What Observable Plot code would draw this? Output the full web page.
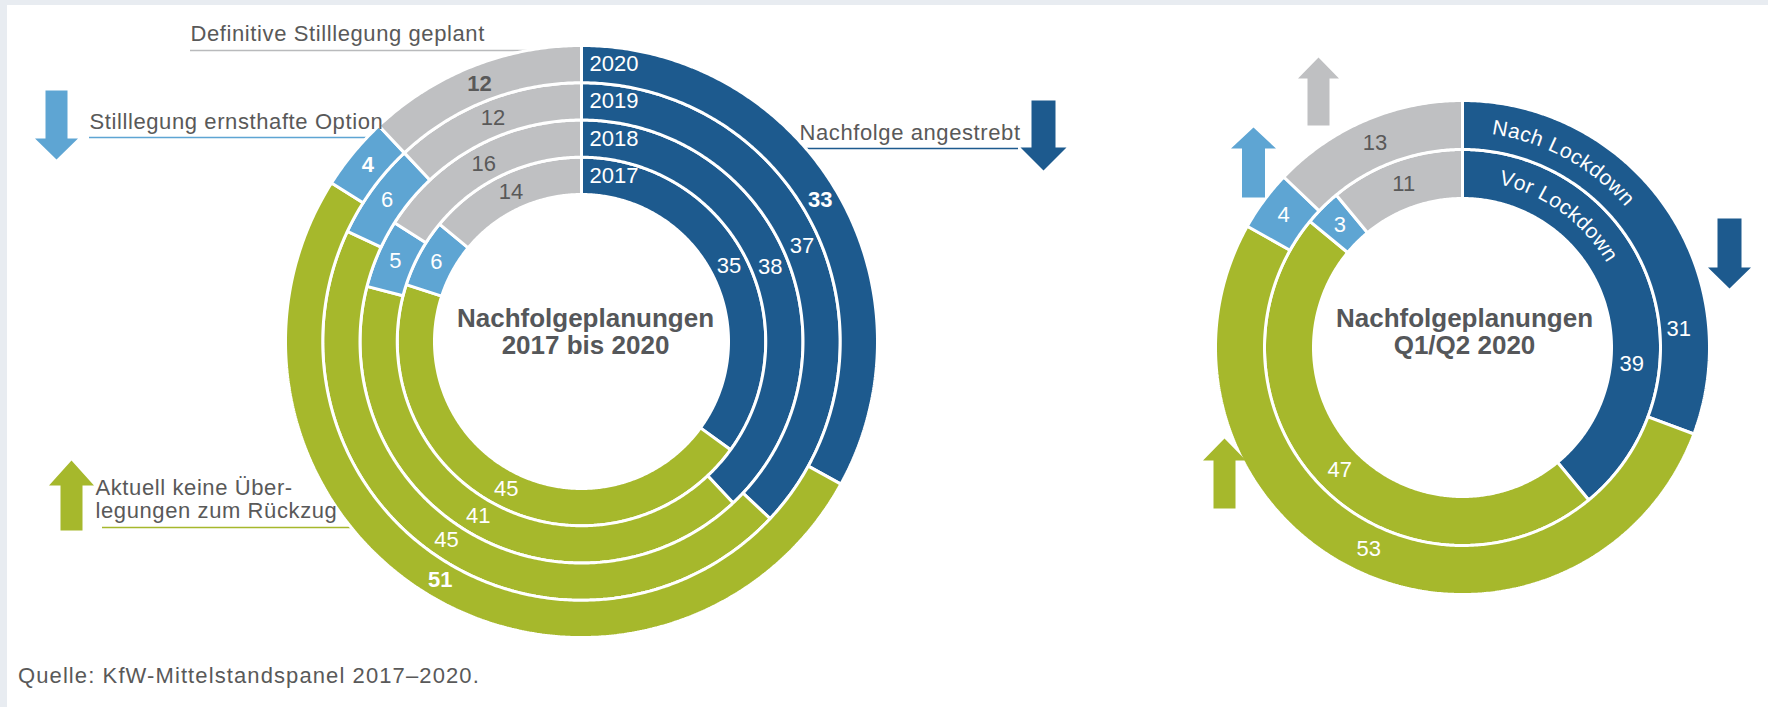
<!DOCTYPE html>
<html><head><meta charset="utf-8">
<script src="https://cdn.jsdelivr.net/npm/d3@7"></script>
<script src="https://cdn.jsdelivr.net/npm/@observablehq/plot@0.6"></script>
<style>
html,body{margin:0;padding:0;background:#e8ecf1;width:1768px;height:707px;overflow:hidden;font-family:"Liberation Sans",Arial,sans-serif}
#panel{position:absolute;left:7px;top:5px;width:1761px;height:702px;background:#fff}
#chart{position:absolute;left:0;top:0}
#caption{position:absolute;left:11px;top:660px;font-size:22px;line-height:22px;letter-spacing:1.1px;color:#595959;white-space:nowrap}
</style></head><body>
<div id="panel"><div id="chart"></div><div id="caption">Quelle: KfW-Mittelstandspanel 2017–2020.</div></div>
<script>
// ---------------- DATA ----------------
const categories = ["Nachfolge angestrebt", "Aktuell keine Überlegungen zum Rückzug", "Stilllegung ernsthafte Option", "Definitive Stilllegung geplant"];
const years = ["2017", "2018", "2019", "2020"];
const nachfolgeAngestrebt = [35, 38, 37, 33];
const keineUeberlegungen = [45, 41, 45, 51];
const stilllegungOption = [6, 5, 6, 4];
const stilllegungGeplant = [14, 16, 12, 12];

const periods = ["Vor Lockdown", "Nach Lockdown"];
const qNachfolgeAngestrebt = [39, 31];
const qKeineUeberlegungen = [47, 53];
const qStilllegungOption = [3, 4];
const qStilllegungGeplant = [11, 13];

const titleLeft = ["Nachfolgeplanungen", "2017 bis 2020"];
const titleRight = ["Nachfolgeplanungen", "Q1/Q2 2020"];

// ---------------- STYLE / LAYOUT ----------------
const COLORS = ["#1d5a8e", "#a6b82c", "#5ea5d3", "#bfc0c2"];
const LABEL_COLORS = ["#ffffff", "#ffffff", "#ffffff", "#595959"];
const TEXT = "#595959";
const FONT = "'Liberation Sans', Arial, sans-serif";
const LEFT = {cx: 581, cy: 341, radii: [147, 184.25, 221.5, 258.75, 296]};
const RIGHT = {cx: 1462, cy: 347, radii: [149, 198, 247]};
const W = 1761, H = 650, OX = 7, OY = 5;

const leftSeries = [nachfolgeAngestrebt, keineUeberlegungen, stilllegungOption, stilllegungGeplant];
const rightSeries = [qNachfolgeAngestrebt, qKeineUeberlegungen, qStilllegungOption, qStilllegungGeplant];

const rad = d => d * Math.PI / 180;
function pt(c, r, a) { return [c.cx + r * Math.sin(a), c.cy - r * Math.cos(a)]; }

// build ring polygons + labels from data
function buildDonut(c, series, ringNames, donutId, opts) {
  const polys = [], labels = [];
  ringNames.forEach((name, i) => {
    const r0 = c.radii[i], r1 = c.radii[i + 1];
    const vals = series.map(s => s[i]);
    const total = d3.sum(vals);
    let acc = 0;
    vals.forEach((v, k) => {
      const a0 = acc / total * 2 * Math.PI, a1 = (acc + v) / total * 2 * Math.PI;
      acc += v;
      const id = `${donutId}-${i}-${k}`;
      const n = Math.max(2, Math.ceil((a1 - a0) / rad(0.5)));
      for (let j = 0; j <= n; j++) { const a = a0 + (a1 - a0) * j / n; const [x, y] = pt(c, r1, a); polys.push({id, x, y, fill: COLORS[k]}); }
      for (let j = n; j >= 0; j--) { const a = a0 + (a1 - a0) * j / n; const [x, y] = pt(c, r0, a); polys.push({id, x, y, fill: COLORS[k]}); }
      const f = (opts.labelFrac && opts.labelFrac[k] != null) ? opts.labelFrac[k][i] : 0.5;
      const am = a0 + (a1 - a0) * f;
      const rl = (opts.labelR && opts.labelR[k]) ? opts.labelR[k][i] : (r0 + r1) / 2;
      const [lx, ly] = pt(c, rl, am);
      labels.push({x: lx, y: ly, text: String(v), fill: LABEL_COLORS[k], bold: opts.boldRing === i});
    });
  });
  return {polys, labels};
}

const left = buildDonut(LEFT, leftSeries, years, "L", {boldRing: 3});
const right = buildDonut(RIGHT, rightSeries, periods, "R", {
  boldRing: -1,
  labelFrac: [[0.68, 0.77]],
  labelR: [[170, 217]]
});

// year labels at top of each blue ring
const yearLabels = years.map((y, i) => ({x: LEFT.cx + 8, y: LEFT.cy - (LEFT.radii[i] + LEFT.radii[i + 1]) / 2, text: y}));

// curved period labels
const ctx = document.createElement("canvas").getContext("2d");
const ARC_FONT = 21, ARC_SP = 0.9;
ctx.font = `${ARC_FONT}px 'Liberation Sans', Arial, sans-serif`;
function arcChars(str, c, r, startDeg) {
  const out = []; let acc = 0;
  for (const ch of str) {
    const w = ctx.measureText(ch).width;
    const a = rad(startDeg) + (acc + w / 2) / r;
    const [x, y] = pt(c, r, a);
    out.push({x, y, text: ch, rotate: a * 180 / Math.PI});
    acc += w + ARC_SP;
  }
  return out;
}
const arcStarts = [12.5, 7.8];
const arcR = [174, 222];
const arcText = periods.flatMap((p, i) => arcChars(p, RIGHT, arcR[i], arcStarts[i]));

// annotations
const annotations = [
  {text: "Definitive Stilllegung geplant", x: 190, y: 40},
  {text: "Stilllegung ernsthafte Option", x: 89, y: 128},
  {text: "Aktuell keine Über-", x: 95, y: 494},
  {text: "legungen zum Rückzug", x: 95, y: 517},
  {text: "Nachfolge angestrebt", x: 799, y: 139}
];
const underlines = [
  {y: 50, x1: 190, x2: 560, stroke: "#b9babc"},
  {y: 137, x1: 89, x2: 385, stroke: COLORS[2]},
  {y: 527, x1: 102, x2: 365, stroke: COLORS[1]},
  {y: 148, x1: 790, x2: 1018, stroke: COLORS[0]}
];

// block arrows
const arrowSpecs = [
  {cx: 56, top: 90, bottom: 159, sw: 22, hw: 43, hh: 21, dir: "down", fill: COLORS[2]},
  {cx: 71, top: 460, bottom: 530, sw: 22, hw: 45, hh: 25, dir: "up", fill: COLORS[1]},
  {cx: 1043, top: 100, bottom: 170, sw: 24, hw: 46, hh: 23, dir: "down", fill: COLORS[0]},
  {cx: 1318, top: 57, bottom: 125, sw: 22, hw: 41, hh: 21, dir: "up", fill: COLORS[3]},
  {cx: 1253, top: 127, bottom: 197, sw: 23, hw: 45, hh: 21, dir: "up", fill: COLORS[2]},
  {cx: 1729, top: 218, bottom: 288, sw: 24, hw: 43, hh: 21, dir: "down", fill: COLORS[0]},
  {cx: 1224, top: 438, bottom: 508, sw: 22, hw: 43, hh: 22, dir: "up", fill: COLORS[1]}
];
const arrows = arrowSpecs.flatMap((a, i) => {
  const s = a.sw / 2, h = a.hw / 2;
  let p;
  if (a.dir === "up") {
    const b = a.top + a.hh;
    p = [[a.cx, a.top], [a.cx + h, b], [a.cx + s, b], [a.cx + s, a.bottom], [a.cx - s, a.bottom], [a.cx - s, b], [a.cx - h, b]];
  } else {
    const b = a.bottom - a.hh;
    p = [[a.cx - s, a.top], [a.cx + s, a.top], [a.cx + s, b], [a.cx + h, b], [a.cx, a.bottom], [a.cx - h, b], [a.cx - s, b]];
  }
  return p.map(([x, y]) => ({id: "A" + i, x, y, fill: a.fill}));
});

const titles = [
  {x: 585, y: 331, text: titleLeft.join("\n")},
  {x: 1464, y: 331, text: titleRight.join("\n")}
];

const allPolys = left.polys.concat(right.polys);
const allLabels = left.labels.concat(right.labels);

const chart = Plot.plot({
  width: W, height: H, margin: 0,
  x: {domain: [OX, OX + W], range: [0, W], axis: null},
  y: {domain: [OY, OY + H], range: [0, H], axis: null},
  color: {type: "identity"},
  style: {background: "transparent", fontFamily: FONT, overflow: "visible"},
  marks: [
    Plot.ruleY(underlines, {y: "y", x1: "x1", x2: "x2", stroke: "stroke", strokeWidth: 1.6}),
    Plot.line(allPolys, {x: "x", y: "y", z: "id", fill: "fill", stroke: "white", strokeWidth: 3, curve: "linear-closed", strokeLinejoin: "miter"}),
    Plot.line(arrows, {x: "x", y: "y", z: "id", fill: "fill", stroke: "none", curve: "linear-closed"}),
    Plot.text(allLabels.filter(d => !d.bold), {x: "x", y: "y", text: "text", fill: "fill", fontSize: 22, lineAnchor: "middle"}),
    Plot.text(allLabels.filter(d => d.bold), {x: "x", y: "y", text: "text", fill: "fill", fontSize: 22, fontWeight: "bold", lineAnchor: "middle"}),
    Plot.text(yearLabels, {x: "x", y: "y", text: "text", fill: "white", fontSize: 22, textAnchor: "start", lineAnchor: "middle"}),
    Plot.text(arcText, {x: "x", y: "y", text: "text", rotate: "rotate", fill: "white", fontSize: ARC_FONT, lineAnchor: "middle"}),
    Plot.text(annotations, {x: "x", y: "y", text: "text", fill: TEXT, fontSize: 22, textAnchor: "start", lineAnchor: "bottom"}),
    Plot.text(titles, {x: "x", y: "y", text: "text", fill: "#55575a", fontSize: 26, fontWeight: "bold", lineHeight: 1.04, lineAnchor: "middle"})
  ]
});
const annotTexts = annotations.map(d => d.text);
d3.select(chart).selectAll("text")
  .filter(function () { return annotTexts.includes(this.textContent); })
  .style("letter-spacing", "0.6px");
document.getElementById("chart").appendChild(chart);
</script>
</body></html>
